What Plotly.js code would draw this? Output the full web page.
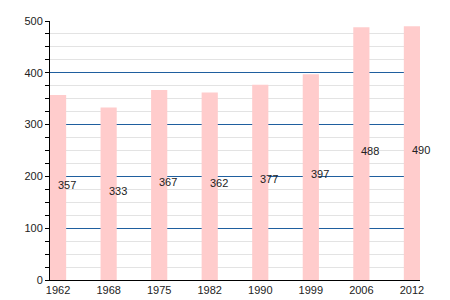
<!DOCTYPE html>
<html>
<head>
<meta charset="utf-8">
<script src="https://cdn.plot.ly/plotly-3.0.1.min.js"></script>
<style>html,body{margin:0;padding:0;background:#fff;}#chart{width:450px;height:300px;}</style>
</head>
<body>
<div id="chart"></div>
<script>
const years = ["1962","1968","1975","1982","1990","1999","2006","2012"];
const population = [357, 333, 367, 362, 377, 397, 488, 490];
const yMax = 500;
const yMajorStep = 100;
const yMinorStep = 25;

const idx = years.map((_, i) => i);

const bars = {
  type: 'bar',
  x: idx,
  y: population,
  width: 0.32,
  marker: {color: '#ffcccc', line: {width: 0}},
  hoverinfo: 'skip'
};

const annotations = population.map((v, i) => ({
  x: i, y: v / 2, xref: 'x', yref: 'y',
  text: String(v), showarrow: false,
  xanchor: 'left', yanchor: 'middle', xshift: -2, yshift: 3,
  font: {family: 'Liberation Sans, Arial, sans-serif', size: 11, color: '#222'}
}));

const layout = {
  width: 450, height: 300,
  margin: {l: 50, r: 30, t: 21, b: 20},
  paper_bgcolor: '#fff', plot_bgcolor: '#fff',
  showlegend: false,
  font: {family: 'Liberation Sans, Arial, sans-serif', size: 11, color: '#222'},
  xaxis: {
    range: [-0.16, 7.16],
    tickvals: idx, ticktext: years,
    showgrid: false, zeroline: false,
    showline: true, linecolor: '#000', linewidth: 1,
    ticks: '', fixedrange: true
  },
  yaxis: {
    range: [0, yMax],
    tickmode: 'linear', tick0: 0, dtick: yMajorStep,
    showgrid: true, gridcolor: '#1f5f9f', gridwidth: 1,
    zeroline: false,
    showline: true, linecolor: '#000', linewidth: 1,
    ticks: 'outside', ticklen: 4, tickcolor: '#000',
    minor: {tickmode: 'linear', tick0: 0, dtick: yMinorStep, ticks: 'outside', ticklen: 4, tickcolor: '#000', showgrid: true, gridcolor: '#e3e3e3', gridwidth: 1},
    fixedrange: true
  },
  annotations: annotations
};

Plotly.newPlot('chart', [bars], layout, {displayModeBar: false, staticPlot: true});
</script>
</body>
</html>
